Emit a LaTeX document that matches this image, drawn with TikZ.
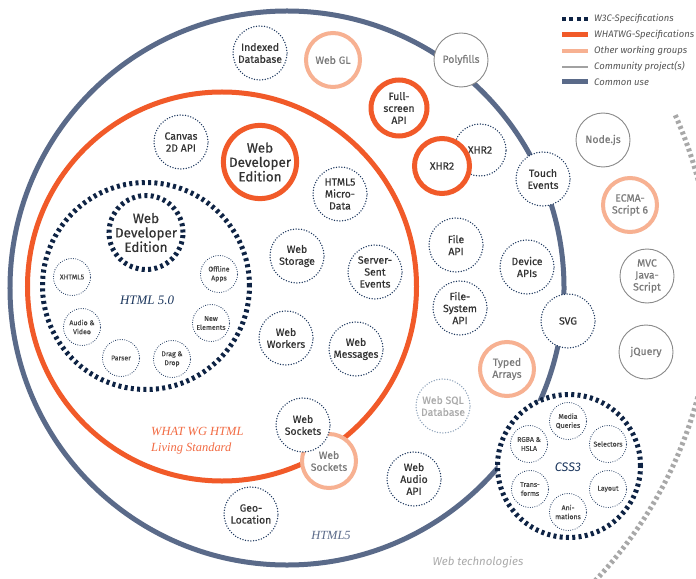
\documentclass[tikz,border=0pt]{standalone}
\usepackage{fontspec}
\setmainfont{Fira Sans}
\newfontfamily\semifam{Fira Sans}[FakeBold=0.5]
\newfontfamily\serfam{Liberation Serif}
\definecolor{navy}{HTML}{1B365D}
\definecolor{navyd}{HTML}{0E2344}
\definecolor{orng}{HTML}{F15A29}
\definecolor{lorng}{HTML}{F7B192}
\definecolor{bluec}{HTML}{5A6A89}
\definecolor{greyc}{HTML}{8A8A8A}
\definecolor{txt}{HTML}{333333}
\definecolor{gtxt}{HTML}{7A7A7A}
\definecolor{ltxt}{HTML}{ABABAB}
\definecolor{sqlline}{HTML}{8FA3BA}
\definecolor{arcgrey}{HTML}{A8A8A8}
\definecolor{wglab}{HTML}{F26B43}
\definecolor{legtxt}{HTML}{555555}
\newcommand\mymid{\semifam\fontsize{10.5}{12}\selectfont}
\newcommand\mybig{\semifam\fontsize{13.5}{14.5}\selectfont}
\newcommand\mysmall{\semifam\fontsize{7}{9}\selectfont}
\begin{document}
\begin{tikzpicture}[x=1bp,y=-1bp,
  base/.style={circle, inner sep=0pt, outer sep=0pt, align=center, fill=white, text=txt, font=\mymid, minimum size=54bp},
  dot/.style={base, draw=navy, line width=1.5bp, dash pattern=on 0bp off 2.7bp, line cap=round},
  wg/.style={base, draw=orng, line width=5bp},
  other/.style={base, draw=lorng, line width=4bp, text=gtxt},
  comm/.style={base, draw=greyc, line width=0.9bp, text=gtxt},
  thickdash/.style={base, draw=navyd, line width=5bp, dash pattern=on 3bp off 3.3bp},
  sdot/.style={dot, font=\mysmall, text=txt!90, minimum size=37bp, line width=1.1bp, dash pattern=on 0bp off 2.3bp},
  commonline/.style={draw=bluec, line width=5bp},
  wgline/.style={draw=orng, line width=5bp},
  greyarc/.style={draw=arcgrey, line width=5bp, dash pattern=on 3bp off 3bp},
  legtext/.style={anchor=west, inner sep=0pt, text=legtxt, font=\fontsize{9.5}{11}\selectfont\itshape},
  biglab/.style={inner sep=0pt, font=\serfam\itshape\fontsize{13}{15}\selectfont}
]
\useasboundingbox[fill=white] (0,0) rectangle (696,579);

% big circles
\draw[commonline] (287,288) circle[radius=277bp];
\draw[wgline] (222,286.5) circle[radius=194.5bp];
\coordinate (ctr) at (287,288);
\draw[greyarc] (ctr) ++(-24:425) arc[start angle=-24, end angle=46, radius=425];

% W3C HTML 5.0 and CSS3
\node[thickdash, minimum size=207bp] (html50) at (146,286) {};
\node[thickdash, minimum size=143bp] (css3) at (569,466) {};
\node[thickdash, minimum size=74bp, font=\mybig] (wdew) at (146,232.5) {Web\\Developer\\Edition};

% HTML 5.0 small
\node[sdot] (xhtml) at (72,277) {XHTML5};
\node[sdot] (offline) at (219,274) {Offline\\Apps};
\node[sdot] (av) at (82,327) {Audio \&\\Video};
\node[sdot] (newel) at (211,323) {New\\Elements};
\node[sdot] (parser) at (121,358) {Parser};
\node[sdot] (dd) at (172,359) {Drag \&\\Drop};
\node[biglab, text=navy] (html50lab) at (147,300) {HTML 5.0};

% CSS3 small
\node[sdot] (mq) at (568,421) {Media\\Queries};
\node[sdot] (rgba) at (529,444) {RGBA \&\\HSLA};
\node[sdot] (sel) at (608,444) {Selectors};
\node[sdot] (trans) at (530,489) {Trans-\\forms};
\node[sdot] (layout) at (608,489) {Layout};
\node[sdot] (ani) at (568,512) {Ani-\\mations};
\node[inner sep=0pt, text=navy, font=\fontsize{12.5}{14}\selectfont\itshape] (css3lab) at (568,467) {CSS3};

% medium nodes
\node[dot] (idx) at (260,53) {Indexed\\Database};
\node[other] (webgl) at (333,60) {Web GL};
\node[comm] (poly) at (461,60) {Polyfills};
\node[wg, minimum size=56bp] (fullscr) at (399,108) {Full-\\screen\\API};
\node[dot, minimum size=52bp] (xhr2w) at (480,150) {XHR2};
\node[wg, minimum size=55bp] (xhr2o) at (442,166) {XHR2};
\node[dot] (touch) at (543,179) {Touch\\Events};
\node[dot] (canvas) at (181,142) {Canvas\\2D API};
\node[wg, minimum size=72bp, font=\mybig] (wdeo) at (260,162) {Web\\Developer\\Edition};
\node[dot] (micro) at (340,194) {HTML5\\Micro-\\Data};
\node[dot] (storage) at (297,256) {Web\\Storage};
\node[dot] (sse) at (375,272) {Server-\\Sent\\Events};
\node[dot] (workers) at (286,338) {Web\\Workers};
\node[dot] (messages) at (356,349) {Web\\Messages};
\node[dot] (fileapi) at (456,245) {File\\API};
\node[dot] (device) at (527,267) {Device\\APIs};
\node[dot] (fsapi) at (460,308) {File-\\System\\API};
\node[dot] (svg) at (568,321) {SVG};
\node[other] (typed) at (507,369) {Typed\\Arrays};
\node[dot, draw=sqlline, text=ltxt] (websql) at (443,406) {Web SQL\\Database};
\node[dot] (audio) at (414,479) {Web\\Audio\\API};
\node[other] (socko) at (329,461) {Web\\Sockets};
\node[dot] (sockw) at (303,425) {Web\\Sockets};
\node[dot] (geo) at (251,514) {Geo-\\Location};
\node[comm] (nodejs) at (603,140) {Node.js};
\node[other] (ecma) at (630,205) {ECMA-\\Script 6};
\node[comm] (mvc) at (647,276) {MVC\\Java-\\Script};
\node[comm] (jquery) at (646,352) {jQuery};

% labels
\node[biglab, text=wglab, anchor=west, align=left, font=\serfam\itshape\fontsize{12.5}{16}\selectfont] (wglabel) at (151,441) {WHAT WG HTML\\Living Standard};
\node[biglab, text=bluec, font=\serfam\itshape\fontsize{12.5}{14}\selectfont] (h5lab) at (331,535) {HTML5};
\node[inner sep=0pt, text=ltxt, font=\fontsize{11.5}{13}\selectfont\itshape] (webtech) at (478,562) {Web technologies};

% legend
\coordinate (la1) at (562,19); \coordinate (lb1) at (588,19);
\coordinate (la2) at (562,35); \coordinate (lb2) at (588,35);
\coordinate (la3) at (562,51); \coordinate (lb3) at (588,51);
\coordinate (la4) at (562,67); \coordinate (lb4) at (588,67);
\coordinate (la5) at (562,82); \coordinate (lb5) at (588,82);
\draw[draw=navyd, line width=4.5bp, dash pattern=on 4bp off 3.3bp] (la1) -- (lb1);
\draw[draw=orng, line width=5bp] (la2) -- (lb2);
\draw[draw=lorng, line width=4bp] (la3) -- (lb3);
\draw[draw=greyc!80, line width=1.2bp] (la4) -- (lb4);
\draw[draw=bluec, line width=5bp] (la5) -- (lb5);
\node[legtext] (lt1) at (594,19) {W3C-Specifications};
\node[legtext] (lt2) at (594,35) {WHATWG-Specifications};
\node[legtext] (lt3) at (594,51) {Other working groups};
\node[legtext] (lt4) at (594,67) {Community project(s)};
\node[legtext] (lt5) at (594,82) {Common use};
\end{tikzpicture}
\end{document}
